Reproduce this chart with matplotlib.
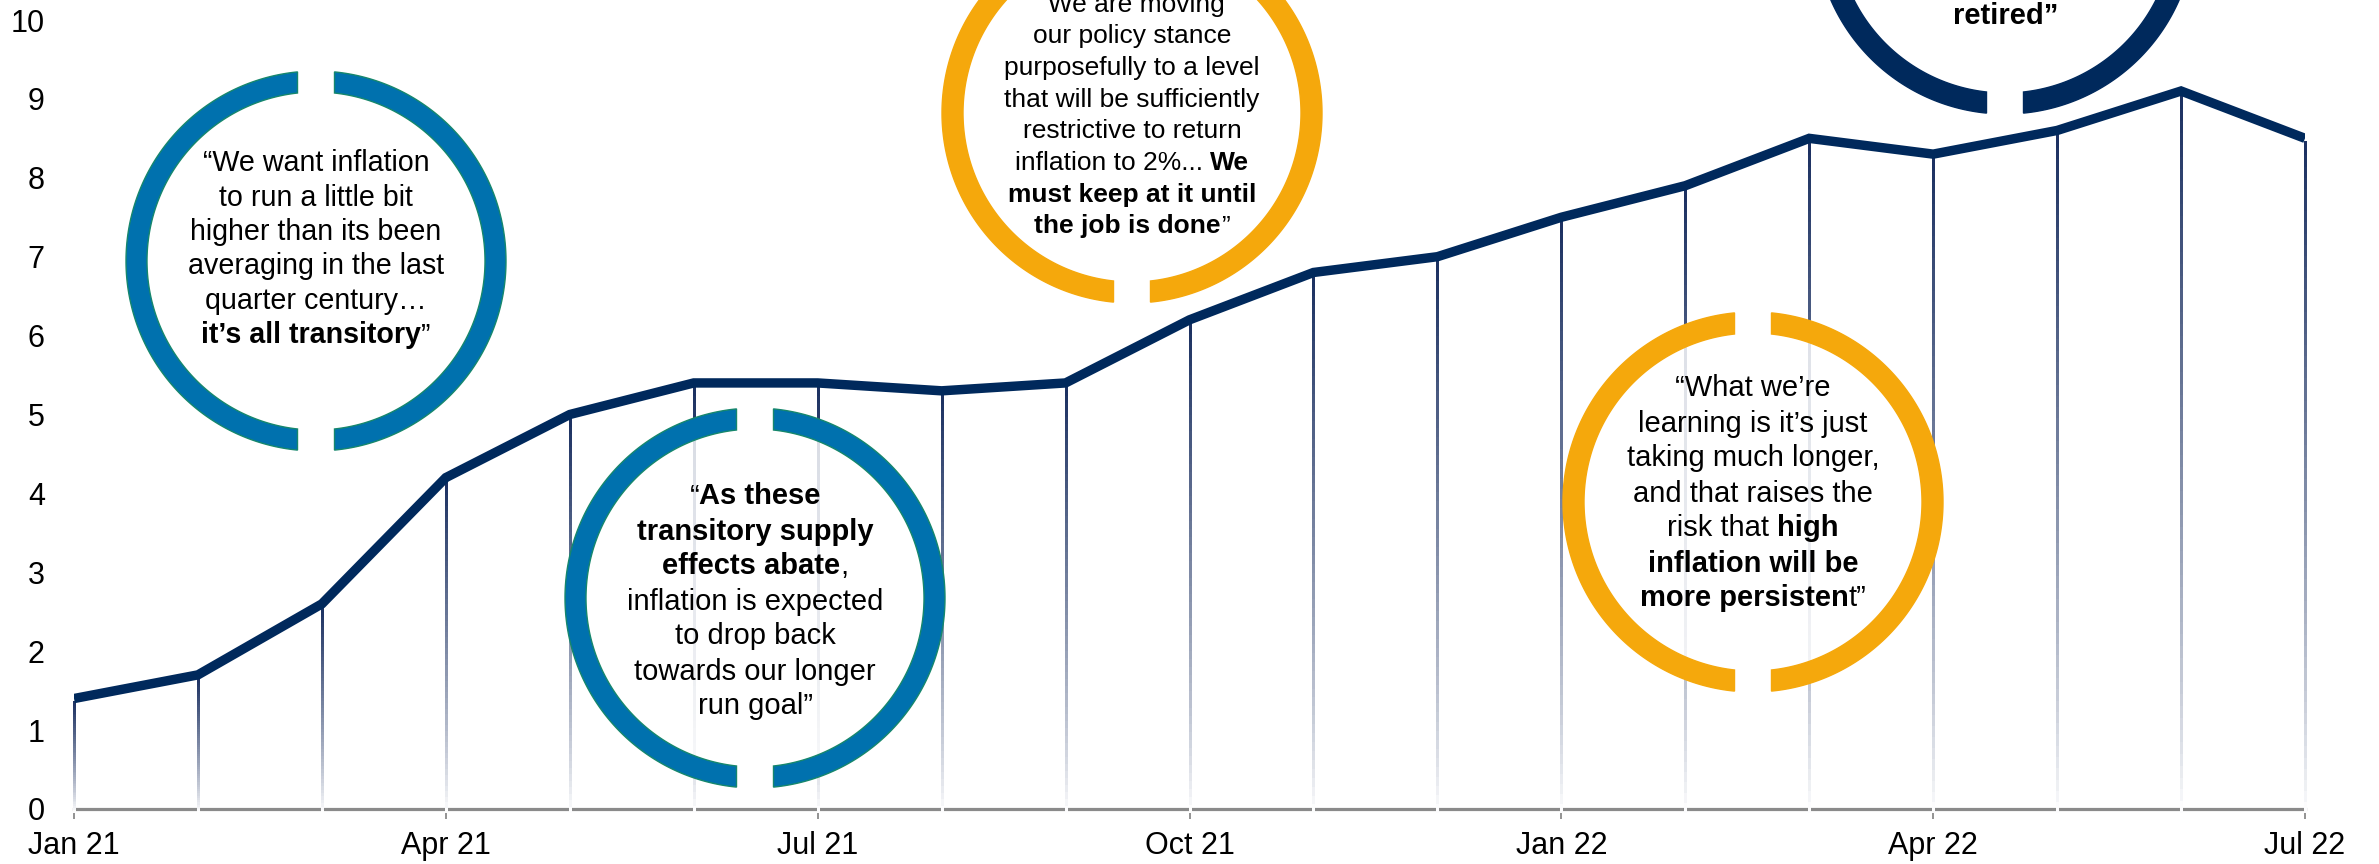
import matplotlib
matplotlib.use("Agg")
import matplotlib.pyplot as plt
import numpy as np
from matplotlib.collections import LineCollection
from matplotlib.patches import Polygon, Circle
from matplotlib.colors import to_rgb

FONT = "Liberation Sans"
plt.rcParams['font.family'] = [FONT, 'DejaVu Sans']

# ---------------- data ----------------
months = ["Jan 21", "Feb 21", "Mar 21", "Apr 21", "May 21", "Jun 21", "Jul 21",
          "Aug 21", "Sep 21", "Oct 21", "Nov 21", "Dec 21", "Jan 22", "Feb 22",
          "Mar 22", "Apr 22", "May 22", "Jun 22", "Jul 22"]
cpi = [1.4, 1.7, 2.6, 4.2, 5.0, 5.4, 5.4, 5.3, 5.4, 6.2, 6.8, 7.0, 7.5, 7.9,
       8.5, 8.3, 8.6, 9.1, 8.5]
tick_labels = ["Jan 21", "Apr 21", "Jul 21", "Oct 21", "Jan 22", "Apr 22", "Jul 22"]
y_ticks = list(range(0, 11))

# quotes: list of lines, each line a list of (text, bold)
quote1 = [[("“We want inflation", False)],
          [("to run a little bit", False)],
          [("higher than its been", False)],
          [("averaging in the last", False)],
          [("quarter century…", False)],
          [("it’s all transitory", True), ("”", False)]]
quote2 = [[("“", False), ("As these", True)],
          [("transitory supply", True)],
          [("effects abate", True), (",", False)],
          [("inflation is expected", False)],
          [("to drop back", False)],
          [("towards our longer", False)],
          [("run goal”", False)]]
quote3 = [[("“We are moving", False)],
          [("our policy stance", False)],
          [("purposefully to a level", False)],
          [("that will be sufficiently", False)],
          [("restrictive to return", False)],
          [("inflation to 2%... ", False), ("We", True)],
          [("must keep at it until", True)],
          [("the job is done", True), ("”", False)]]
quote4 = [[("“What we’re", False)],
          [("learning is it’s just", False)],
          [("taking much longer,", False)],
          [("and that raises the", False)],
          [("risk that ", False), ("high", True)],
          [("inflation will be", True)],
          [("more persisten", True), ("t”", False)]]
quote5 = [[("retired”", True)]]

# ---------------- styling ----------------
W, H = 2379, 864
NAVY = "#00295c"
DROP = "#1a2f60"
BLUE = "#0071ae"
BLUE_EDGE = "#16876c"
YELLOW = "#f5a80c"
GREY = "#8a8a8a"

fig = plt.figure(figsize=(W / 100, H / 100), dpi=100)
ax_l, ax_r, ax_b, ax_t = 74, 2305, 809, 20
ax = fig.add_axes([ax_l / W, (H - ax_b) / H, (ax_r - ax_l) / W, (ax_b - ax_t) / H])

x = np.arange(len(months))
ax.set_xlim(0, len(months) - 1)
ax.set_ylim(0, 10)

# drop lines with gradient navy -> white
navy_rgb = np.array(to_rgb(DROP))
white = np.array([1.0, 1.0, 1.0])
segs, cols = [], []
N = 60
for xi, v in zip(x, cpi):
    ys = np.linspace(-0.03, v - 0.05, N + 1)
    for k in range(N):
        segs.append([(xi, ys[k]), (xi, ys[k + 1])])
        f = max(0.0, (ys[k] + ys[k + 1]) / 2 / v)
        f = f ** 0.8
        cols.append(tuple(white * (1 - f) + navy_rgb * f))
lc = LineCollection(segs, colors=cols, linewidths=1.8, zorder=3, capstyle='projecting',
                    antialiaseds=False, clip_on=False)
ax.add_collection(lc)

ax.plot(x, cpi, color=NAVY, lw=6.8, solid_capstyle='butt', solid_joinstyle='miter', zorder=4)

for s in ["top", "right", "left"]:
    ax.spines[s].set_visible(False)
ax.spines["bottom"].set_color(GREY)
ax.spines["bottom"].set_linewidth(2.3)
ax.spines["bottom"].set_zorder(2)

ax.set_yticks(y_ticks)
ax.set_yticklabels([str(t) for t in y_ticks])
ax.tick_params(axis='y', length=0, pad=21, labelsize=22)
ax.set_xticks([months.index(t) for t in tick_labels])
ax.set_xticklabels(tick_labels)
ax.tick_params(axis='x', length=7, width=1.3, color=GREY, pad=9, labelsize=22)
ax.patch.set_alpha(0)

# ---------------- overlay for circles (pixel coords, y down) ----------------
ov = fig.add_axes([0, 0, 1, 1], zorder=5)
ov.set_xlim(0, W)
ov.set_ylim(H, 0)
ov.axis('off')
ov.patch.set_alpha(0)

R_OUT, RING, GAP = 190, 21, 18.5


def ring(cx, cy, color, edge):
    r_in = R_OUT - RING
    ov.add_patch(Circle((cx, cy), r_in + 1, facecolor='white', alpha=0.82,
                        edgecolor='none', zorder=1))
    for side in (1, -1):
        t_o = np.linspace(np.arcsin(GAP / R_OUT), np.pi - np.arcsin(GAP / R_OUT), 200)
        t_i = np.linspace(np.pi - np.arcsin(GAP / r_in), np.arcsin(GAP / r_in), 200)
        xs = np.concatenate([cx + side * R_OUT * np.sin(t_o), cx + side * r_in * np.sin(t_i)])
        ys = np.concatenate([cy - R_OUT * np.cos(t_o), cy - r_in * np.cos(t_i)])
        ov.add_patch(Polygon(np.column_stack([xs, ys]), closed=True, facecolor=color,
                             edgecolor=edge if edge else color, lw=1.0, zorder=2))


renderer = fig.canvas.get_renderer()


def measure(s, bold, size):
    kw = dict(fontsize=size, fontweight='bold' if bold else 'normal', family=FONT)
    t1 = ov.text(0, 0, s + "|", **kw)
    t2 = ov.text(0, 0, "|", **kw)
    w = t1.get_window_extent(renderer).width - t2.get_window_extent(renderer).width
    t1.remove()
    t2.remove()
    return w


def rich_text(cx, cy, lines, size):
    px = size * 100 / 72
    lh = 1.2 * px
    n = len(lines)
    y0 = cy - (n - 1) / 2 * lh
    for i, line in enumerate(lines):
        base = y0 + i * lh + 0.36 * px
        widths = [measure(s, b, size) for s, b in line]
        xx = cx - sum(widths) / 2
        for (s, b), w in zip(line, widths):
            ov.text(xx, base, s, fontsize=size, fontweight='bold' if b else 'normal',
                    family=FONT, ha='left', va='baseline', color='black', zorder=3)
            xx += w


circle_centers = [(316, 261), (755, 598), (1132, 113), (1753, 502), (2005, -76)]
circle_colors = [BLUE, BLUE, YELLOW, YELLOW, NAVY]
circle_edges = [BLUE_EDGE, BLUE_EDGE, None, None, None]
text_centers = [(316, 247), (755, 599), (1132, 113), (1753, 491), (2006, 13)]
text_sizes = [20.6, 21, 19, 21, 21]
quotes = [quote1, quote2, quote3, quote4, quote5]

for (cx, cy), c, e in zip(circle_centers, circle_colors, circle_edges):
    ring(cx, cy, c, e)
for (tx, ty), q, sz in zip(text_centers, quotes, text_sizes):
    rich_text(tx, ty, q, sz)

fig.savefig("out.png", dpi=100)
